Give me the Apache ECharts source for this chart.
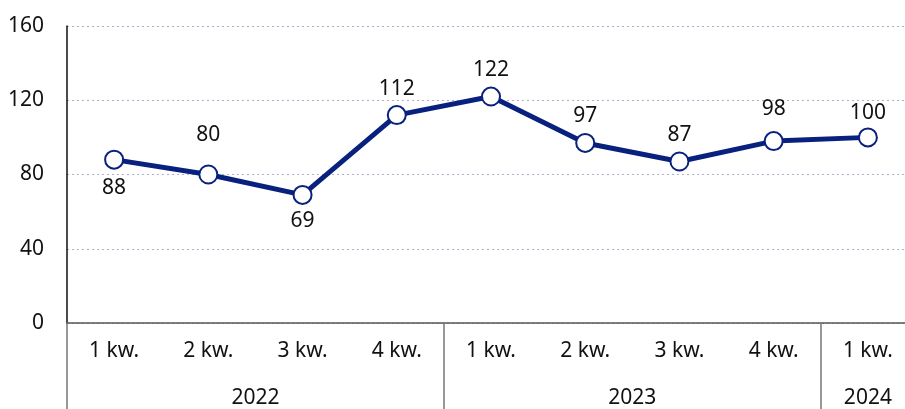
<!DOCTYPE html>
<html>
<head>
	<meta charset="utf-8">
	<title>kwartały</title>
	<style type="text/css">
		*{ padding: 0; margin: 0; }
		body{ background: #fff; overflow: hidden; width: 905px; height: 409px; }
		#chart{ width: 915px; height: 409px; }
	</style>
</head>
<body>
	<div id="chart"></div>

<script type="text/javascript" src="https://cdn.jsdelivr.net/npm/echarts@6/dist/echarts.min.js"></script>
<script type="text/javascript">
	// dane
	var quarters = ['1 kw.', '2 kw.', '3 kw.', '4 kw.', '1 kw.', '2 kw.', '3 kw.', '4 kw.', '1 kw.'];
	var values = [88, 80, 69, 112, 122, 97, 87, 98, 100];
	var years = ['2022', '2023', '2024'];
	var yearBreaks = [0, 4, 8];          // indeks pierwszego kwartału danego roku
	var yearCenters = [2, 6, 8.5];       // środek grupy w jednostkach kategorii
	var yTicks = [0, 40, 80, 120, 160];

	var navy = '#08207e';
	var font = 'Noto Sans';
	var fs = 21;

	// etykiety: które pod punktem, dodatkowy odstęp
	var labelBelow = [0, 2];
	var labelDist = {0: 8, 1: 19, 2: 6, 3: 6, 4: 6, 5: 6, 6: 6, 7: 12, 8: 4};

	var seriesData = values.map(function (v, i) {
		return {
			value: v,
			label: {
				position: labelBelow.indexOf(i) >= 0 ? 'bottom' : 'top',
				distance: labelDist[i]
			}
		};
	});

	var charts = echarts.init(document.getElementById('chart'));
	var option = {
		animation: false,
		textStyle: { fontFamily: font },
		grid: {
			left: 67,
			top: 26,
			right: 0,
			height: 301
		},
		xAxis: [{
			type: 'category',
			data: quarters,
			boundaryGap: true,
			axisLine: { lineStyle: { color: '#555', width: 1.5 } },
			axisTick: { show: false },
			axisLabel: { color: '#111', fontSize: fs, margin: 18, fontFamily: font },
			splitLine: { show: false }
		}, {
			type: 'value',
			min: 0,
			max: quarters.length,
			position: 'bottom',
			axisLine: { show: false },
			splitLine: { show: false },
			axisTick: {
				show: true,
				customValues: yearBreaks,
				length: 100,
				lineStyle: { color: '#777', width: 1.5 }
			},
			axisLabel: {
				show: true,
				customValues: yearCenters,
				color: '#111',
				fontSize: fs,
				margin: 65,
				fontFamily: font,
				formatter: function (v) {
					return years[yearCenters.indexOf(v)];
				}
			}
		}],
		yAxis: {
			type: 'value',
			min: yTicks[0],
			max: yTicks[yTicks.length - 1],
			interval: 40,
			axisLine: { show: true, lineStyle: { color: '#111', width: 1.5 } },
			axisTick: { show: false },
			axisLabel: { color: '#111', fontSize: fs, margin: 23, fontFamily: font },
			splitLine: {
				show: true,
				lineStyle: { color: '#aeaed0', type: [2, 3], width: 1.2 }
			}
		},
		series: [{
			type: 'line',
			xAxisIndex: 0,
			data: seriesData,
			symbol: 'circle',
			symbolSize: 18,
			lineStyle: { color: navy, width: 5 },
			itemStyle: { color: '#fff', borderColor: navy, borderWidth: 2 },
			label: {
				show: true,
				color: '#111',
				fontSize: fs,
				fontFamily: font
			},
			z: 3
		}]
	};
	charts.setOption(option);
</script>
</body>
</html>
